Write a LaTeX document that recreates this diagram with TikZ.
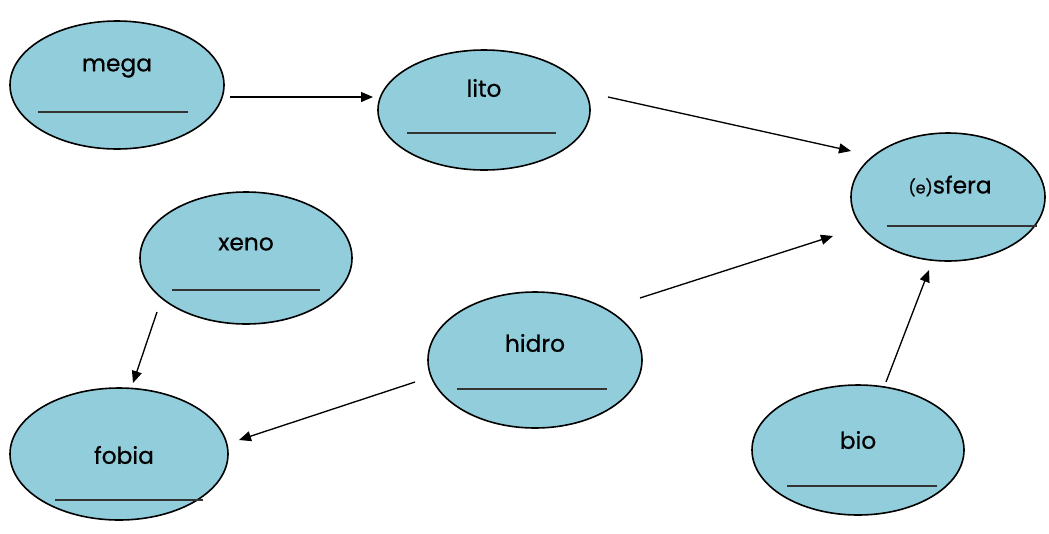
\documentclass[tikz,border=0pt]{standalone}
\usepackage{fontspec}
\setmainfont{Poppins}[FakeBold=0.6]
\usetikzlibrary{shapes.geometric,arrows.meta}
\definecolor{bubble}{RGB}{146,205,220}
\tikzset{
  bub/.style n args={2}{ellipse, draw=black, line width=1.2pt, fill=bubble,
    minimum width=#1*1.5pt, minimum height=#2*1.5pt, inner sep=0pt},
  word/.style={inner sep=0pt, font=\fontsize{17.5pt}{20pt}\selectfont},
  blank/.style={line width=1.8pt, draw=black!80},
  arr/.style={line width=1pt, -{Triangle[length=9pt,width=7.5pt]}}
}
\begin{document}
\begin{tikzpicture}[x=0.75pt,y=-0.75pt]
\useasboundingbox (0,0) rectangle (1049,533);
% bubbles
\node[bub={107}{64}] (mega) at (117,85) {};
\node[bub={106}{60}] (lito) at (484,110) {};
\node[bub={97}{64}] (sfera) at (948,197) {};
\node[bub={106}{66}] (xeno) at (246,258) {};
\node[bub={107}{68}] (hidro) at (535,360) {};
\node[bub={109}{66}] (fobia) at (119,454) {};
\node[bub={106}{65}] (bio) at (858,450) {};
% words
\node[word] (tmega) at (117,68) {mega};
\node[word] (tlito) at (484,88) {lito};
\node[word] (tsfera) at (950,186) {{\fontsize{12pt}{14pt}\selectfont(e)}sfera};
\node[word] (txeno) at (246,244) {xeno};
\node[word] (thidro) at (535,343) {hidro};
\node[word] (tfobia) at (124,455) {fobia};
\node[word] (tbio) at (858,440) {bio};
% blanks
\draw[blank] (38,112) -- (188,112);
\draw[blank] (407,133) -- (556,133);
\draw[blank] (887,226) -- (1037,226);
\draw[blank] (172,290) -- (320,290);
\draw[blank] (457,389) -- (607,389);
\draw[blank] (55,500) -- (203,500);
\draw[blank] (787,486) -- (937,486);
% connector ends
\coordinate (m1) at (230,97);  \coordinate (l1) at (373,97);
\coordinate (l2) at (608,97);  \coordinate (s1) at (851,151);
\coordinate (h1) at (640,298); \coordinate (s2) at (833,236);
\coordinate (b1) at (886,382); \coordinate (s3) at (929,270);
\coordinate (x1) at (157,312); \coordinate (f1) at (133,383);
\coordinate (h2) at (415,382); \coordinate (f2) at (239,440);
\draw[arr] (m1) -- (l1);
\draw[arr] (l2) -- (s1);
\draw[arr] (h1) -- (s2);
\draw[arr] (b1) -- (s3);
\draw[arr] (x1) -- (f1);
\draw[arr] (h2) -- (f2);
\end{tikzpicture}
\end{document}
